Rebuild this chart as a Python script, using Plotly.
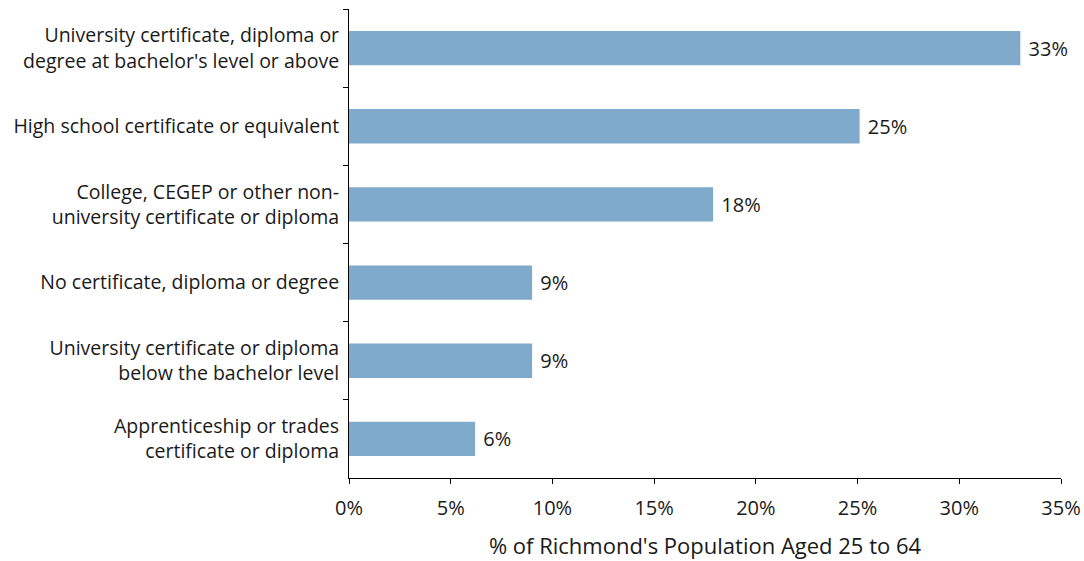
import plotly.graph_objects as go

categories = [
    "University certificate, diploma or<br>degree at bachelor's level or above",
    "High school certificate or equivalent",
    "College, CEGEP or other non-<br>university certificate or diploma",
    "No certificate, diploma or degree",
    "University certificate or diploma<br>below the bachelor level",
    "Apprenticeship or trades<br>certificate or diploma",
]
values = [33.0, 25.1, 17.9, 9.0, 9.0, 6.2]
labels = ["33%", "25%", "18%", "9%", "9%", "6%"]
x_tickvals = [0, 5, 10, 15, 20, 25, 30, 35]
x_ticktext = ["0%", "5%", "10%", "15%", "20%", "25%", "30%", "35%"]

FONT = "Open Sans"

fig = go.Figure(
    go.Bar(
        x=values,
        y=categories,
        orientation="h",
        marker=dict(color="#7FAACB", line=dict(width=0)),
        text=[" " + t for t in labels],
        textposition="outside",
        textfont=dict(family=FONT, size=20, color="#1a1a1a"),
        cliponaxis=False,
        width=0.44,
    )
)

fig.update_layout(
    width=1084,
    height=561,
    margin=dict(l=349, r=23, t=9, b=83),
    plot_bgcolor="white",
    paper_bgcolor="white",
    font=dict(family=FONT, size=20, color="#1a1a1a"),
    showlegend=False,
)

fig.update_xaxes(
    range=[0, 35],
    tickvals=x_tickvals,
    ticktext=x_ticktext,
    showgrid=False,
    zeroline=False,
    showline=True,
    linecolor="#000000",
    linewidth=1,
    ticks="outside",
    ticklen=5,
    tickcolor="#000000",
    ticklabelstandoff=7,
    automargin=False,
    title=dict(text="% of Richmond's Population Aged 25 to 64", font=dict(family=FONT, size=22), standoff=18),
    tickfont=dict(family=FONT, size=20),
)

fig.update_yaxes(
    autorange="reversed",
    showgrid=False,
    showline=True,
    linecolor="#000000",
    linewidth=1,
    ticks="outside",
    ticklen=5,
    tickcolor="#000000",
    tickson="boundaries",
    ticklabelstandoff=5,
    automargin=False,
    tickfont=dict(family=FONT, size=19.5),
)

fig.write_html(
    "out.html",
    config={"displayModeBar": False},
    post_script="document.body.style.margin='0';document.body.style.overflow='hidden';",
)
